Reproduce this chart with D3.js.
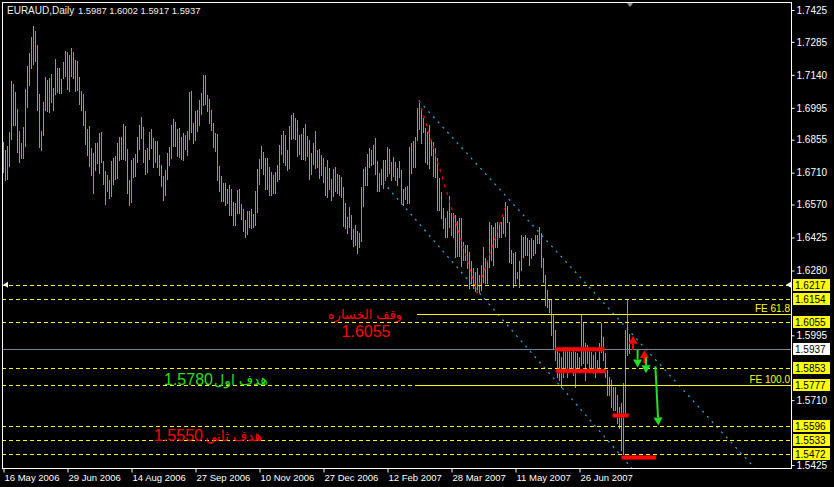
<!DOCTYPE html>
<html>
<head>
<meta charset="utf-8">
<script src="https://cdn.jsdelivr.net/npm/d3@7"></script>
<style>
body{margin:0;background:#000;}
svg{display:block;}
text{font-family:"Liberation Sans","DejaVu Sans",Arial,sans-serif;}
</style>
</head>
<body>
<div class="chart"></div>
<script>
// EURAUD daily bars, highs and lows (bar 0 = 16 May 2006)
var highs = [
1.6844,1.6809,1.6827,1.6888,1.7113,1.7099,1.7064,1.6989,1.6893,1.6840,
1.6910,1.7077,1.7179,1.7236,1.7306,1.7355,1.7333,1.7271,1.7055,1.6893,
1.7020,1.7130,1.7117,1.7126,1.7143,1.7082,1.7209,1.7170,1.7170,1.7121,
1.7196,1.7245,1.7240,1.7227,1.7258,1.7240,1.7205,1.7201,1.7130,1.7069,
1.7055,1.6981,1.6901,1.6915,1.6818,1.6796,1.6840,1.6840,1.6884,1.6888,
1.6761,1.6717,1.6699,1.6677,1.6761,1.6774,1.6783,1.6840,1.6866,1.6866,
1.6923,1.6915,1.6813,1.6677,1.6765,1.6774,1.6791,1.6866,1.6919,1.6954,
1.6910,1.6809,1.6818,1.6888,1.6901,1.6862,1.6849,1.6849,1.6787,1.6743,
1.6695,1.6721,1.6796,1.6822,1.6919,1.6945,1.6932,1.6901,1.6906,1.6866,
1.6884,1.6875,1.6893,1.7064,1.7069,1.6928,1.6981,1.6985,1.7029,1.7060,
1.7139,1.7139,1.7051,1.7033,1.6985,1.6928,1.6884,1.6879,1.6739,1.6695,
1.6664,1.6664,1.6637,1.6655,1.6637,1.6580,1.6576,1.6633,1.6637,1.6571,
1.6549,1.6501,1.6541,1.6541,1.6549,1.6527,1.6629,1.6725,1.6769,1.6827,
1.6800,1.6774,1.6774,1.6734,1.6712,1.6699,1.6712,1.6743,1.6831,1.6875,
1.6893,1.6875,1.6809,1.6915,1.6963,1.6972,1.6950,1.6941,1.6875,1.6879,
1.6906,1.6923,1.6871,1.6853,1.6796,1.6840,1.6893,1.6809,1.6813,1.6787,
1.6774,1.6734,1.6765,1.6730,1.6681,1.6725,1.6734,1.6703,1.6699,1.6690,
1.6646,1.6576,1.6514,1.6558,1.6523,1.6461,1.6479,1.6453,1.6444,1.6646,
1.6725,1.6734,1.6791,1.6818,1.6809,1.6831,1.6862,1.6761,1.6708,1.6725,
1.6765,1.6765,1.6822,1.6813,1.6756,1.6778,1.6756,1.6730,1.6761,1.6721,
1.6637,1.6646,1.6651,1.6822,1.6840,1.6849,1.6866,1.6994,1.7029,1.6985,
1.6950,1.6906,1.6888,1.6919,1.6853,1.6844,1.6818,1.6774,1.6686,1.6624,
1.6554,1.6510,1.6541,1.6607,1.6532,1.6532,1.6523,1.6497,1.6510,1.6510,
1.6404,1.6391,1.6391,1.6360,1.6321,1.6290,1.6272,1.6290,1.6259,1.6303,
1.6382,1.6334,1.6316,1.6492,1.6479,1.6470,1.6488,1.6492,1.6488,1.6492,
1.6514,1.6580,1.6563,1.6492,1.6369,1.6356,1.6360,1.6272,1.6321,1.6435,
1.6426,1.6435,1.6422,1.6413,1.6422,1.6413,1.6435,1.6435,1.6470,1.6444,
1.6334,1.6259,1.6193,1.6149,1.6149,1.6083,1.6017,1.5929,1.5916,1.5898,
1.5942,1.5942,1.5942,1.5929,1.5920,1.5942,1.5920,1.5916,1.5898,1.6083,
1.6048,1.5960,1.5951,1.5942,1.5920,1.5907,1.5920,1.5885,1.5960,1.6048,
1.5986,1.5916,1.5841,1.5810,1.5797,1.5766,1.5766,1.5731,1.5678,1.5696,
1.5784,1.6017,1.6154,1.6002];
var lows = [
1.6712,1.6677,1.6681,1.6739,1.6857,1.6919,1.6919,1.6800,1.6756,1.6774,
1.6774,1.6827,1.6998,1.7095,1.7170,1.7187,1.7201,1.6985,1.6822,1.6809,
1.6875,1.6985,1.6981,1.6976,1.7020,1.6985,1.7055,1.7064,1.7060,1.7060,
1.7126,1.7135,1.7077,1.7069,1.7135,1.7126,1.7069,1.7073,1.7011,1.6985,
1.6919,1.6835,1.6787,1.6739,1.6699,1.6620,1.6721,1.6752,1.6708,1.6756,
1.6659,1.6571,1.6629,1.6598,1.6607,1.6659,1.6681,1.6686,1.6765,1.6769,
1.6769,1.6765,1.6620,1.6567,1.6580,1.6690,1.6695,1.6756,1.6813,1.6862,
1.6756,1.6703,1.6712,1.6769,1.6818,1.6734,1.6756,1.6734,1.6699,1.6651,
1.6589,1.6611,1.6681,1.6743,1.6774,1.6827,1.6827,1.6783,1.6778,1.6769,
1.6765,1.6813,1.6787,1.6857,1.6888,1.6840,1.6853,1.6893,1.6919,1.6967,
1.7007,1.7011,1.6981,1.6928,1.6897,1.6822,1.6805,1.6677,1.6629,1.6585,
1.6585,1.6567,1.6576,1.6523,1.6523,1.6479,1.6479,1.6532,1.6532,1.6505,
1.6453,1.6426,1.6439,1.6470,1.6466,1.6470,1.6479,1.6536,1.6659,1.6730,
1.6703,1.6637,1.6637,1.6611,1.6611,1.6620,1.6620,1.6673,1.6681,1.6791,
1.6756,1.6743,1.6721,1.6730,1.6857,1.6862,1.6857,1.6783,1.6791,1.6769,
1.6769,1.6765,1.6783,1.6681,1.6703,1.6747,1.6730,1.6734,1.6686,1.6699,
1.6668,1.6611,1.6602,1.6637,1.6589,1.6607,1.6629,1.6620,1.6611,1.6602,
1.6475,1.6466,1.6444,1.6470,1.6417,1.6387,1.6391,1.6356,1.6382,1.6409,
1.6563,1.6655,1.6655,1.6734,1.6743,1.6747,1.6703,1.6629,1.6629,1.6659,
1.6642,1.6677,1.6695,1.6708,1.6677,1.6695,1.6677,1.6655,1.6690,1.6576,
1.6567,1.6593,1.6576,1.6576,1.6708,1.6734,1.6734,1.6853,1.6901,1.6840,
1.6888,1.6756,1.6747,1.6730,1.6787,1.6695,1.6690,1.6545,1.6545,1.6510,
1.6466,1.6426,1.6426,1.6470,1.6435,1.6426,1.6338,1.6343,1.6343,1.6299,
1.6325,1.6325,1.6290,1.6202,1.6224,1.6202,1.6189,1.6184,1.6184,1.6193,
1.6228,1.6224,1.6224,1.6294,1.6325,1.6303,1.6382,1.6382,1.6426,1.6426,
1.6444,1.6431,1.6492,1.6316,1.6312,1.6206,1.6224,1.6246,1.6206,1.6281,
1.6338,1.6347,1.6347,1.6303,1.6334,1.6347,1.6356,1.6400,1.6400,1.6294,
1.6228,1.6127,1.6118,1.6096,1.5995,1.5938,1.5885,1.5810,1.5797,1.5766,
1.5810,1.5841,1.5810,1.5854,1.5832,1.5819,1.5766,1.5850,1.5850,1.5863,
1.5872,1.5797,1.5872,1.5841,1.5850,1.5828,1.5810,1.5832,1.5841,1.5920,
1.5885,1.5810,1.5731,1.5731,1.5678,1.5665,1.5665,1.5608,1.5586,1.5489,
1.5472,1.5652,1.5907,1.5917];

var dateIdx = [0,32,64,96,128,160,192,224,256,288];
var dateLabels = ["16 May 2006","29 Jun 2006","14 Aug 2006","27 Sep 2006","10 Nov 2006",
                  "27 Dec 2006","12 Feb 2007","28 Mar 2007","11 May 2007","26 Jun 2007"];
// price labels that are not hidden under the level boxes
var priceTicks = [1.7425,1.7285,1.7140,1.6995,1.6855,1.6710,1.6570,1.6425,1.6280,
                  1.5995,1.5710,1.5425];
var symbol = "EURAUD,Daily";
var lastOHLC = [1.5987,1.6002,1.5917,1.5937];

var dashLevels = [1.6217,1.6154,1.6055,1.5853,1.5777,1.5596,1.5533,1.5472];
var bidPrice = 1.5937;
var feNames = ["FE 61.8","FE 100.0"];
var feLevels = [1.6087,1.5777];
var feStart = 207;

// trend channel (bar index, price) and zigzag
var chanUpper = [[208,1.7025],[312,1.6025]];
var chanLower = [[190,1.6668],[258.5,1.5976]];
var zigzag = [[208,1.7029],[237,1.6184],[252,1.6580]];

// red level marks: from bar, to bar, price
var redSegs = [[276.3,300.7,1.5934],[276.5,301.5,1.5838],[304.8,312.7,1.5643],[309.3,326.5,1.5458]];

// arrows: bar0, price0, bar1, price1, colour
var arrows = [
  [315,1.5931,315,1.5993,"#ff0000"],
  [317.3,1.5931,317.3,1.5854,"#22e022"],
  [320.7,1.5872,320.7,1.5931,"#ff0000"],
  [321.5,1.5898,321.5,1.5828,"#22e022"],
  [326.2,1.5859,327.7,1.5599,"#22e022"]
];

w = 834;
h = 487;
var L = 2, R = 791, T = 2, B = 468;

svg = d3.select(".chart")
  .append("svg")
  .attr("width", w)
  .attr("height", h)
  .style("background", "#000");

x = d3.scaleLinear().domain([0, 394]).range([3, 791]);
y = d3.scaleLinear().domain([1.7425, 1.5425]).range([10, 465]);

svg.append("clipPath").attr("id", "plot")
  .append("rect").attr("x", L).attr("y", T).attr("width", R - L).attr("height", B - T);

var g = svg.append("g").attr("clip-path", "url(#plot)");

// bars
g.selectAll(".bar")
  .data(highs)
  .enter()
  .append("line")
  .attr("class", "bar")
  .attr("x1", function(d, i){ return x(i) + 0.5; })
  .attr("x2", function(d, i){ return x(i) + 0.5; })
  .attr("y1", function(d){ return Math.round(y(d)); })
  .attr("y2", function(d, i){ return Math.round(y(lows[i])) + 1; })
  .attr("stroke", "#32dc1e")
  .attr("stroke-width", 1)
  .attr("shape-rendering", "crispEdges");

// channel lines, extended as rays and clipped
function ray(p, far){
  var s = (p[1][1] - p[0][1]) / (p[1][0] - p[0][0]);
  return [x(p[0][0]), y(p[0][1]), x(far), y(p[0][1] + s * (far - p[0][0]))];
}
[chanUpper, chanLower].forEach(function(c){
  var r = ray(c, 420);
  g.append("line")
    .attr("x1", r[0]).attr("y1", r[1]).attr("x2", r[2]).attr("y2", r[3])
    .attr("stroke", "#17b5ee")
    .attr("stroke-width", 1.2)
    .attr("stroke-dasharray", "2,5");
});

// zigzag
g.append("path")
  .attr("d", d3.line().x(function(d){ return x(d[0]); }).y(function(d){ return y(d[1]); })(zigzag))
  .attr("fill", "none")
  .attr("stroke", "#ff0000")
  .attr("stroke-width", 1.2)
  .attr("stroke-dasharray", "3,5");

// dashed levels
g.selectAll(".lvl")
  .data(dashLevels)
  .enter()
  .append("line")
  .attr("class", "lvl")
  .attr("x1", L).attr("x2", R)
  .attr("y1", function(d){ return Math.round(y(d)) + 0.5; })
  .attr("y2", function(d){ return Math.round(y(d)) + 0.5; })
  .attr("stroke", "#ffff00")
  .attr("stroke-dasharray", "4,3")
  .attr("shape-rendering", "crispEdges");

// bid line
g.append("line")
  .attr("x1", L).attr("x2", R)
  .attr("y1", Math.round(y(bidPrice)) + 0.5).attr("y2", Math.round(y(bidPrice)) + 0.5)
  .attr("stroke", "#74879b")
  .attr("shape-rendering", "crispEdges");

// FE lines
feLevels.forEach(function(p, k){
  var yy = Math.round(y(p)) + 0.5;
  g.append("line")
    .attr("x1", x(feStart)).attr("x2", R)
    .attr("y1", yy).attr("y2", yy)
    .attr("stroke", "#ffff00")
    .attr("shape-rendering", "crispEdges");
  svg.append("text")
    .attr("x", 790).attr("y", yy - 2.5)
    .attr("text-anchor", "end")
    .attr("font-size", "10px")
    .attr("fill", "#ffff00")
    .text(feNames[k]);
});

// red level marks
g.selectAll(".seg")
  .data(redSegs)
  .enter()
  .append("rect")
  .attr("class", "seg")
  .attr("x", function(d){ return x(d[0]); })
  .attr("width", function(d){ return x(d[1]) - x(d[0]); })
  .attr("y", function(d){ return y(d[2]) - 2; })
  .attr("height", 4)
  .attr("rx", 1)
  .attr("fill", "#ff0a0a")
  .attr("stroke", "#b00000")
  .attr("stroke-width", 0.6);

// arrows
arrows.forEach(function(a){
  var x0 = x(a[0]), y0 = y(a[1]), x1 = x(a[2]), y1 = y(a[3]);
  var dx = x1 - x0, dy = y1 - y0, len = Math.sqrt(dx * dx + dy * dy);
  var ux = dx / len, uy = dy / len, hl = 8, hw = 4.5;
  var bx = x1 - ux * hl, by = y1 - uy * hl;
  g.append("line")
    .attr("x1", x0).attr("y1", y0).attr("x2", bx).attr("y2", by)
    .attr("stroke", a[4]).attr("stroke-width", 2);
  g.append("path")
    .attr("d", "M" + x1 + "," + y1 + "L" + (bx - uy * hw) + "," + (by + ux * hw) +
               "L" + (bx + uy * hw) + "," + (by - ux * hw) + "Z")
    .attr("fill", a[4]);
});

// annotations
var notes = [
  {t: "وقف الخساره", i: 199.5, p: 1.6068, c: "#ff0000", size: 13, rtl: true},
  {t: "1.6055", i: 181.5, p: 1.5986, c: "#ff0000", size: 16, anchor: "middle"},
  {t: "1.5780", i: 80.5, p: 1.5775, c: "#22e022", size: 16, anchor: "start"},
  {t: "هدف اول", i: 132.5, p: 1.5775, c: "#22e022", size: 14, rtl: true},
  {t: "1.5550", i: 75.5, p: 1.5529, c: "#ff0000", size: 16, anchor: "start"},
  {t: "هدف ثاني", i: 129.5, p: 1.5529, c: "#ff0000", size: 14, rtl: true}
];
notes.forEach(function(n){
  var t = g.append("text")
    .attr("x", x(n.i)).attr("y", y(n.p))
    .attr("text-anchor", n.rtl ? "start" : n.anchor)
    .attr("font-size", n.size + "px")
    .attr("fill", n.c)
    .text(n.t);
  if (n.rtl) t.attr("direction", "rtl");
});

// small white alert arrows on the 1.6217 level
var ya = y(dashLevels[0]);
svg.append("path").attr("d", "M3," + ya + "L8," + (ya - 3) + "L8," + (ya + 3) + "Z").attr("fill", "#fff");
svg.append("path").attr("d", "M786," + ya + "L791," + (ya - 3) + "L791," + (ya + 3) + "Z").attr("fill", "#fff");

// chart shift marker
var xs = x(313.5);
svg.append("path").attr("d", "M" + (xs - 4) + ",2L" + (xs + 4) + ",2L" + xs + ",7Z").attr("fill", "#8a8a8a");

// frame
svg.append("path")
  .attr("d", "M" + (L + 0.5) + "," + (B + 0.5) + "V" + (T + 0.5) + "H" + (R + 0.5) + "V" + (B + 0.5) + "H" + (L + 0.5))
  .attr("fill", "none")
  .attr("stroke", "#fff")
  .attr("shape-rendering", "crispEdges");

// right price axis
var yAxis = d3.axisRight(y)
  .tickValues(priceTicks)
  .tickFormat(d3.format(".4f"))
  .tickSize(3)
  .tickPadding(2);
var ya_g = svg.append("g")
  .attr("transform", "translate(" + (R + 0.5) + ",0)")
  .call(yAxis);
ya_g.select(".domain").remove();
ya_g.selectAll("line").attr("stroke", "#fff");
ya_g.selectAll("text").attr("fill", "#fff").attr("font-size", "10px").attr("font-family", null);

// level boxes on the axis
var boxes = dashLevels.map(function(p){ return {p: p, fill: "#ffff00"}; });
boxes.push({p: bidPrice, fill: "#ffffff"});
var bx_g = svg.selectAll(".box")
  .data(boxes)
  .enter()
  .append("g")
  .attr("class", "box")
  .attr("transform", function(d){ return "translate(793," + Math.round(y(d.p)) + ")"; });
bx_g.append("rect")
  .attr("x", 0).attr("y", -6).attr("width", 37).attr("height", 12)
  .attr("fill", function(d){ return d.fill; });
bx_g.append("text")
  .attr("x", 2).attr("y", 4)
  .attr("font-size", "10px")
  .attr("fill", "#000")
  .text(function(d){ return d3.format(".4f")(d.p); });

// bottom date axis
var xAxis = d3.axisBottom(x)
  .tickValues(dateIdx)
  .tickFormat(function(d, k){ return dateLabels[k]; })
  .tickSize(4)
  .tickPadding(2);
var xa_g = svg.append("g")
  .attr("transform", "translate(0," + (B + 0.5) + ")")
  .call(xAxis);
xa_g.select(".domain").remove();
xa_g.selectAll("line").attr("stroke", "#fff").attr("transform", "translate(0.5,0)");
xa_g.selectAll("text")
  .attr("fill", "#fff")
  .attr("font-size", "9.5px")
  .attr("font-family", null)
  .attr("text-anchor", "start")
  .attr("dx", 1);

// header
svg.append("text")
  .attr("x", 7).attr("y", 14)
  .attr("font-size", "10px")
  .attr("fill", "#f0f0f0")
  .text(symbol);
svg.append("text")
  .attr("x", 78).attr("y", 14)
  .attr("font-size", "9.4px")
  .attr("fill", "#f0f0f0")
  .text(lastOHLC.map(d3.format(".4f")).join(" "));
</script>
</body>
</html>
